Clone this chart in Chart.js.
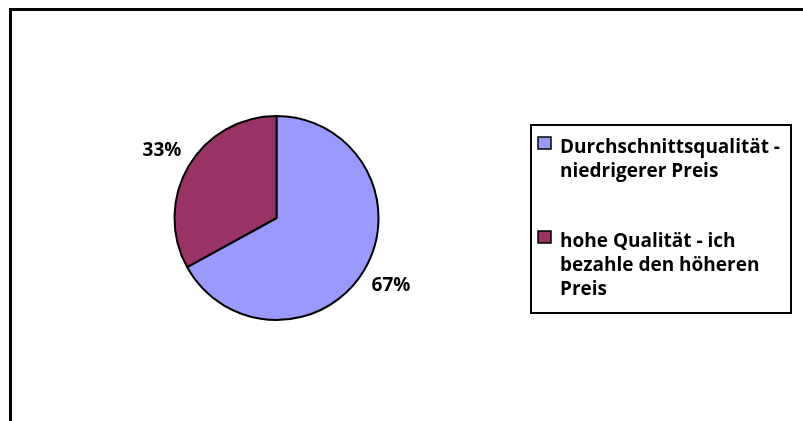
<!DOCTYPE html>
<html>
<head>
<meta charset="utf-8">
<script src="https://cdn.jsdelivr.net/npm/chart.js@4/dist/chart.umd.min.js"></script>
<style>
  html, body { margin: 0; padding: 0; background: #fff; }
  #wrap { width: 803px; height: 421px; position: relative; }
</style>
</head>
<body>
<div id="wrap"><canvas id="pie" width="803" height="421"></canvas></div>
<script>
// categories (split into the lines shown in the legend) and shares in percent
const categories = [
  ['Durchschnittsqualität -', 'niedrigerer Preis'],
  ['hohe Qualität - ich', 'bezahle den höheren', 'Preis']
];
const shares = [67, 33];
const sliceColors = ['#9999FF', '#993366'];

const FONT = 'bold 19px "Open Sans", Lato, sans-serif';

// outer frame, percent labels and the boxed legend
const decorations = {
  id: 'decorations',
  beforeDraw(chart) {
    const ctx = chart.ctx;
    ctx.save();
    ctx.fillStyle = '#fff';
    ctx.fillRect(0, 0, chart.width, chart.height);
    ctx.fillStyle = '#000';
    ctx.fillRect(9, 8, chart.width - 9, 3);
    ctx.fillRect(9, 8, 3, chart.height - 8);
    ctx.restore();
  },
  afterDraw(chart) {
    const ctx = chart.ctx;
    const meta = chart.getDatasetMeta(0);
    ctx.save();
    ctx.font = FONT;
    ctx.fillStyle = '#000';
    ctx.textAlign = 'center';
    ctx.textBaseline = 'middle';
    meta.data.forEach((arc, i) => {
      const mid = (arc.startAngle + arc.endAngle) / 2;
      const r = arc.outerRadius + 31;
      ctx.fillText(shares[i] + '%', arc.x + Math.cos(mid) * r, arc.y + Math.sin(mid) * r);
    });

    // legend box
    ctx.lineWidth = 2;
    ctx.strokeStyle = '#000';
    ctx.strokeRect(531, 125, 260, 188);
    const itemBase = [153, 247];
    const lineH = 24;
    ctx.textAlign = 'left';
    ctx.textBaseline = 'alphabetic';
    categories.forEach((lines, i) => {
      const y0 = itemBase[i];
      ctx.fillStyle = sliceColors[i];
      ctx.fillRect(538, y0 - 16, 13, 12);
      ctx.lineWidth = 1.5;
      ctx.strokeRect(538, y0 - 16, 13, 12);
      ctx.fillStyle = '#000';
      lines.forEach((t, j) => ctx.fillText(t, 560, y0 + j * lineH));
    });
    ctx.restore();
  }
};

new Chart(document.getElementById('pie'), {
  type: 'pie',
  data: {
    labels: categories,
    datasets: [{
      data: shares,
      backgroundColor: sliceColors,
      borderColor: '#000',
      borderWidth: 2
    }]
  },
  options: {
    responsive: false,
    animation: false,
    events: [],
    layout: { padding: { left: 173, right: 423, top: 115, bottom: 100 } },
    plugins: {
      legend: { display: false },
      tooltip: { enabled: false }
    }
  },
  plugins: [decorations]
});
</script>
</body>
</html>
